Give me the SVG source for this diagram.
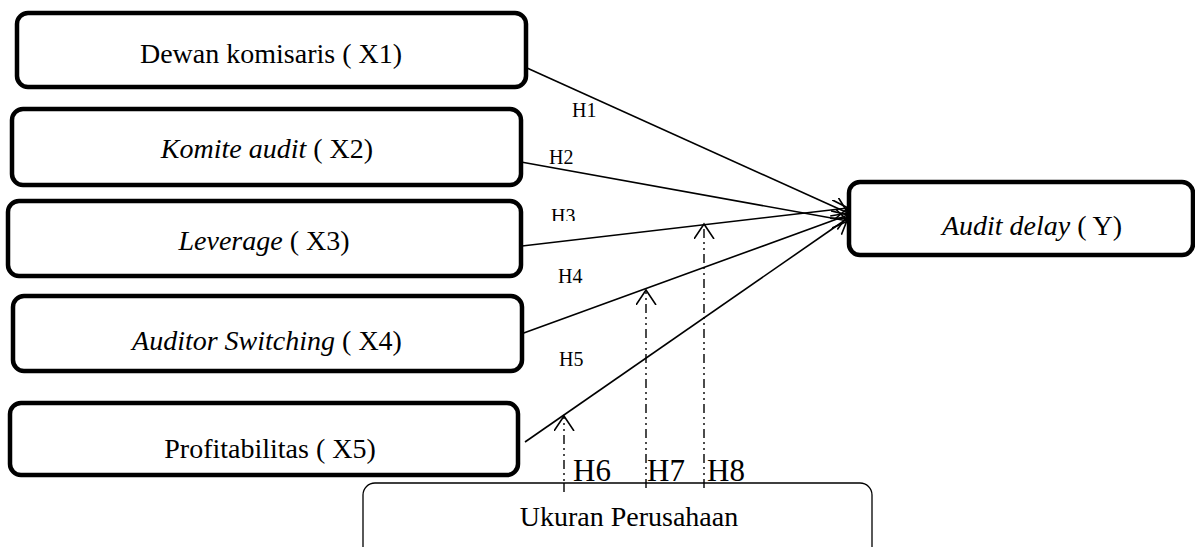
<svg xmlns="http://www.w3.org/2000/svg" width="1195" height="547" viewBox="0 0 1195 547">
<style>
.box{fill:#fff;stroke:#000;stroke-width:4.5}
.thin{fill:#fff;stroke:#000;stroke-width:1.3}
text{font-family:'Liberation Serif','DejaVu Serif',serif;fill:#000}
.t{font-size:28px;text-anchor:middle}
.h{font-size:20px}
.hb{font-size:31px}
.i{font-style:italic}
.c{stroke:#000;stroke-width:1.6;fill:none}
.d{stroke:#000;stroke-width:1.4;fill:none;stroke-dasharray:9 4 2 4 2 4}
</style>
<defs>
<marker id="arr" markerUnits="userSpaceOnUse" markerWidth="24" markerHeight="24" refX="15" refY="10" orient="auto" viewBox="0 0 24 24">
<path d="M0,0 L15,10 L0,20" fill="none" stroke="#000" stroke-width="1.6"/>
</marker>
<clipPath id="clipH3"><rect x="540" y="190" width="60" height="31"/></clipPath>
</defs>
<g id="connectors">
<line class="c" x1="527" y1="68" x2="848" y2="213" marker-end="url(#arr)"/>
<line class="c" x1="521" y1="162" x2="848" y2="221" marker-end="url(#arr)"/>
<line class="c" x1="522" y1="246" x2="848" y2="208" marker-end="url(#arr)"/>
<line class="c" x1="521" y1="334" x2="848" y2="215" marker-end="url(#arr)"/>
<line class="c" x1="525" y1="442" x2="848" y2="218" marker-end="url(#arr)"/>
<line class="d" x1="564" y1="494" x2="564" y2="416" marker-end="url(#arr)"/>
<line class="d" x1="646" y1="488" x2="646" y2="290" marker-end="url(#arr)"/>
<line class="d" x1="704" y1="488" x2="704" y2="224" marker-end="url(#arr)"/>
</g>
<g id="labels">
<text class="h" x="572" y="117">H1</text>
<text class="h" x="549" y="164">H2</text>
<text class="h" x="551" y="223" clip-path="url(#clipH3)">H3</text>
<text class="h" x="558" y="283">H4</text>
<text class="h" x="559" y="366">H5</text>
</g>
<g id="x1"><rect class="box" x="17" y="13" width="509" height="74" rx="11"/><text class="t" x="271" y="63">Dewan komisaris ( X1)</text></g>
<g id="x2"><rect class="box" x="12" y="109" width="509" height="76" rx="11"/><text class="t" x="267" y="158"><tspan class="i">Komite audit</tspan> ( X2)</text></g>
<g id="x3"><rect class="box" x="8" y="201" width="513" height="75" rx="11"/><text class="t" x="264" y="250"><tspan class="i">Leverage</tspan> ( X3)</text></g>
<g id="x4"><rect class="box" x="13" y="296" width="509" height="75" rx="11"/><text class="t" x="267" y="350"><tspan class="i">Auditor Switching</tspan> ( X4)</text></g>
<g id="x5"><rect class="box" x="10" y="403" width="508" height="72" rx="11"/><text class="t" x="270" y="458">Profitabilitas ( X5)</text></g>
<g id="y"><rect class="box" x="849" y="182" width="344" height="73" rx="11"/><text class="t" x="1032" y="235"><tspan class="i">Audit delay</tspan> ( Y)</text></g>
<g id="z"><rect class="thin" x="363" y="483" width="509" height="90" rx="12"/><text class="t" x="629" y="526">Ukuran Perusahaan</text></g>
<g id="mod-labels">
<text class="hb" x="573" y="481">H6</text>
<text class="hb" x="647" y="481">H7</text>
<text class="hb" x="707" y="481">H8</text>
</g>
<g id="connectors-over">
<line class="d" x1="564" y1="483" x2="564" y2="494" stroke-dasharray="none"/>
<line class="d" x1="646" y1="483" x2="646" y2="488" stroke-dasharray="none"/>
<line class="d" x1="704" y1="483" x2="704" y2="488" stroke-dasharray="none"/>
</g>
</svg>
